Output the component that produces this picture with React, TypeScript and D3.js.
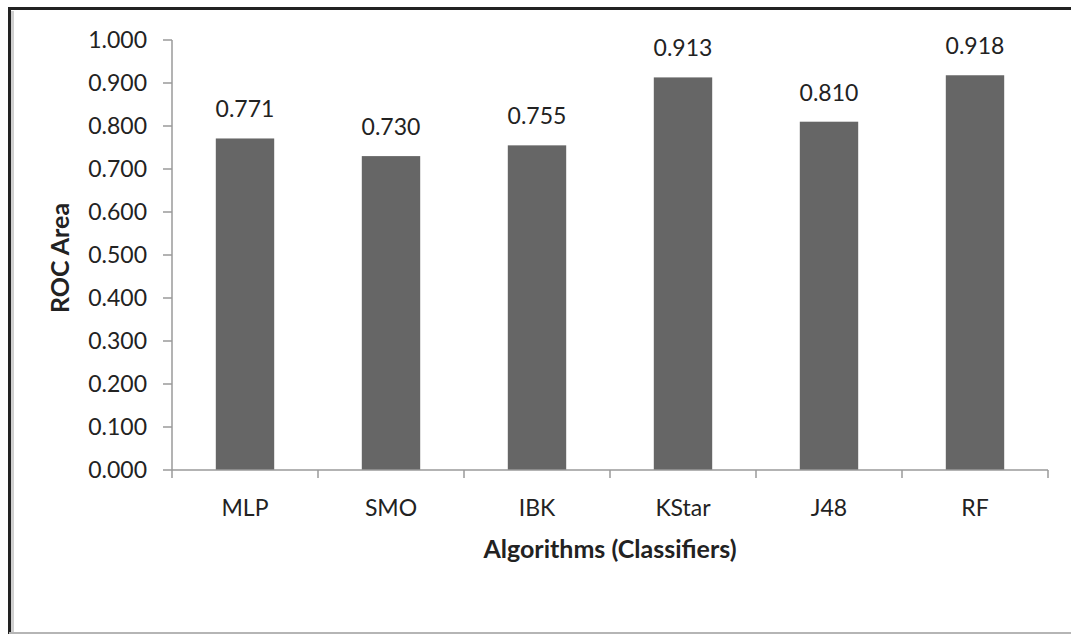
import React from "react";
import * as d3 from "d3";

const categories = ["MLP", "SMO", "IBK", "KStar", "J48", "RF"];
const rocArea = [0.771, 0.730, 0.755, 0.913, 0.810, 0.918];
const yTicks = [0, 0.1, 0.2, 0.3, 0.4, 0.5, 0.6, 0.7, 0.8, 0.9, 1.0];
const yTitle = "ROC Area";
const xTitle = "Algorithms (Classifiers)";

const W = 1071;
const H = 637;
const left = 172;
const right = 1048;
const top = 40;
const bottom = 470;
const FONT = "Lato, 'Open Sans', sans-serif";
const TEXT = "#222";
const AXIS = "#9a9a9a";
const FS = 23;
const TFS = 25;

export default function App() {
  const x = d3.scaleBand<string>().domain(categories).range([left, right]).paddingInner(0.6).paddingOuter(0.3);
  const y = d3.scaleLinear().domain([0, 1]).range([bottom, top]);
  const step = x.step();
  const bounds = d3.range(categories.length + 1).map((i) => left + i * step);

  return (
    <svg width={W} height={H} style={{ position: "fixed", left: 0, top: 0, background: "#fff" }}>
      <rect x={0} y={0} width={W} height={H} fill="#fff" />
      {/* frame */}
      <line x1={12.5} y1={11} x2={12.5} y2={632} stroke="#d0d0d0" strokeWidth={3} />
      <line x1={9.5} y1={8.5} x2={W} y2={8.5} stroke="#222" strokeWidth={3} />
      <line x1={9.5} y1={7} x2={9.5} y2={634} stroke="#222" strokeWidth={3} />
      <line x1={9} y1={633} x2={W} y2={633} stroke="#b5b5b5" strokeWidth={2} />

      {/* bars */}
      {categories.map((c, i) => (
        <rect key={c} x={x(c)!} y={y(rocArea[i])} width={x.bandwidth()} height={y(0) - y(rocArea[i])} fill="#666666" />
      ))}

      {/* y axis */}
      <line x1={left} y1={top} x2={left} y2={bottom} stroke={AXIS} strokeWidth={1.5} />
      {yTicks.map((t) => (
        <g key={t}>
          <line x1={left - 9} x2={left} y1={y(t)} y2={y(t)} stroke={AXIS} strokeWidth={1.5} />
          <text x={147} y={y(t)} dy="0.36em" textAnchor="end" fontFamily={FONT} fontSize={FS} fill={TEXT}>
            {d3.format(".3f")(t)}
          </text>
        </g>
      ))}

      {/* x axis */}
      <line x1={left} y1={bottom} x2={right} y2={bottom} stroke={AXIS} strokeWidth={1.5} />
      {bounds.map((b, i) => (
        <line key={i} x1={b} x2={b} y1={bottom} y2={bottom + 8} stroke={AXIS} strokeWidth={1.5} />
      ))}
      {categories.map((c) => (
        <text key={c} x={x(c)! + x.bandwidth() / 2} y={516} textAnchor="middle" fontFamily={FONT} fontSize={FS} fill={TEXT}>
          {c}
        </text>
      ))}

      {/* value labels */}
      {categories.map((c, i) => (
        <text key={c} x={x(c)! + x.bandwidth() / 2} y={y(rocArea[i]) - 21} textAnchor="middle" fontFamily={FONT} fontSize={FS} fill={TEXT}>
          {d3.format(".3f")(rocArea[i])}
        </text>
      ))}

      {/* titles */}
      <text x={(left + right) / 2} y={558} textAnchor="middle" fontFamily={FONT} fontWeight="bold" fontSize={TFS} fill={TEXT}>
        {xTitle}
      </text>
      <text transform={`translate(69, ${(top + bottom) / 2 + 3}) rotate(-90)`} textAnchor="middle" fontFamily={FONT} fontWeight="bold" fontSize={TFS} fill={TEXT}>
        {yTitle}
      </text>
    </svg>
  );
}
